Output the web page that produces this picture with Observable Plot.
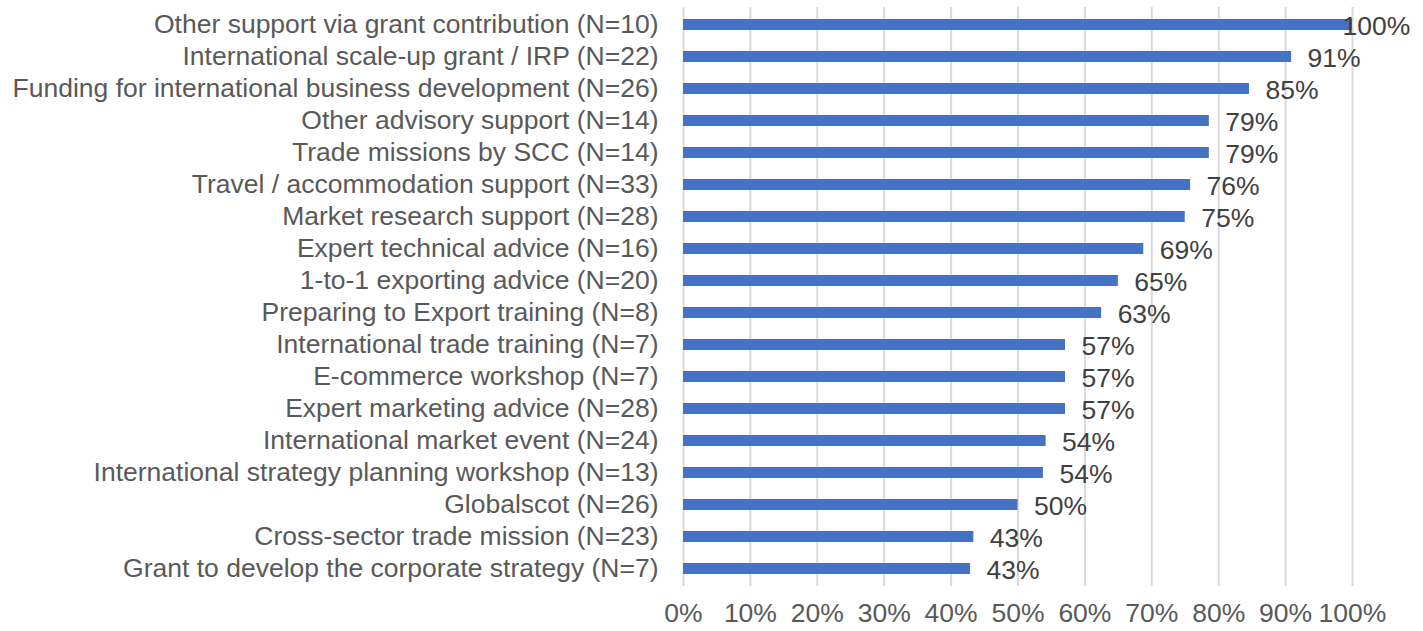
<!DOCTYPE html>
<html>
<head>
<meta charset="utf-8">
<script src="https://cdn.jsdelivr.net/npm/d3@7"></script>
<script src="https://cdn.jsdelivr.net/npm/@observablehq/plot@0.6"></script>
<style>
  body { margin: 0; background: #fff; }
  #chart svg { display: block; }
</style>
</head>
<body>
<div id="chart"></div>
<script>
const categories = [
  "Other support via grant contribution (N=10)",
  "International scale-up grant / IRP (N=22)",
  "Funding for international business development (N=26)",
  "Other advisory support (N=14)",
  "Trade missions by SCC (N=14)",
  "Travel / accommodation support (N=33)",
  "Market research support (N=28)",
  "Expert technical advice (N=16)",
  "1-to-1 exporting advice (N=20)",
  "Preparing to Export training (N=8)",
  "International trade training (N=7)",
  "E-commerce workshop (N=7)",
  "Expert marketing advice (N=28)",
  "International market event (N=24)",
  "International strategy planning workshop (N=13)",
  "Globalscot (N=26)",
  "Cross-sector trade mission (N=23)",
  "Grant to develop the corporate strategy (N=7)"
];
const values = [100, 90.9, 84.6, 78.6, 78.6, 75.8, 75.0, 68.8, 65.0, 62.5, 57.1, 57.1, 57.1, 54.2, 53.8, 50.0, 43.4, 42.9];
const xTicks = [0, 10, 20, 30, 40, 50, 60, 70, 80, 90, 100];

const data = categories.map((c, i) => ({label: c, value: values[i]}));
const fmt = v => Math.round(v) + "%";

const chart = Plot.plot({
  width: 1423,
  height: 631,
  marginLeft: 683,
  marginRight: 71,
  marginTop: 7,
  marginBottom: 45,
  style: {fontFamily: "'Liberation Sans', Arial, sans-serif", color: "#595959", background: "#fff"},
  x: {domain: [0, 100]},
  y: {domain: categories, paddingInner: 0.66, paddingOuter: 0.33},
  marks: [
    Plot.gridX(xTicks, {stroke: "#d9d9d9", strokeOpacity: 1, strokeWidth: 2}),
    Plot.barX(data, {x: "value", y: "label", fill: "#4472C4"}),
    Plot.text(data.filter(d => d.value < 100), {x: "value", y: "label", text: d => fmt(d.value), textAnchor: "start", dx: 16, dy: 2, fontSize: 26.5, fill: "#404040"}),
    Plot.text(data.filter(d => d.value >= 100), {x: "value", y: "label", text: d => fmt(d.value), textAnchor: "start", dx: -10, dy: 2, fontSize: 26.5, fill: "#404040"}),
    Plot.axisX({ticks: xTicks, tickFormat: d => d + "%", tickSize: 0, tickPadding: 17, fontSize: 26.5, fill: "#595959", label: null}),
    Plot.axisY({tickSize: 0, tickPadding: 25, fontSize: 26.5, fill: "#595959", label: null})
  ]
});
document.getElementById("chart").appendChild(chart);
</script>
</body>
</html>
